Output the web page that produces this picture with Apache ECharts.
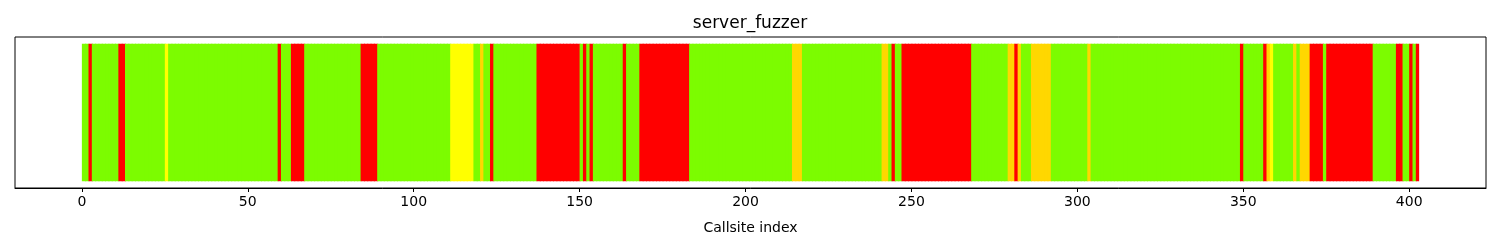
<!DOCTYPE html>
<html>
<head>
<meta charset="utf-8">
<script src="https://cdn.jsdelivr.net/npm/echarts@6/dist/echarts.min.js"></script>
<style>html,body{margin:0;padding:0;background:#fff;}#c{width:1500px;height:250px;}</style>
</head>
<body>
<div id="c"></div>
<script>
// Run starts (callsite index) and status of each run; a run lasts until the next start.
const runStarts = [0,2,3,11,13,25,26,59,60,63,67,84,89,111,118,120,121,123,124,137,150,151,152,153,154,163,164,168,183,214,217,241,243,244,245,247,268,279,281,282,283,286,292,303,304,349,350,356,357,358,359,365,366,367,370,374,375,389,396,398,400,401,402];
const runStatus = ['G','R','G','R','G','Y','G','R','G','R','G','R','G','Y','G','O','G','R','G','R','G','R','G','R','G','R','G','R','G','O','G','O','G','R','G','R','G','O','R','O','G','O','G','O','G','R','G','R','O','Y','G','O','G','O','R','G','R','G','R','G','R','G','R'];
const callsiteCount = 403;
const tickValues = [0,50,100,150,200,250,300,350,400];
const statusColors = {G:'#7CFC00', R:'#FF0000', Y:'#FFFF00', O:'#FFD700'};

const data = [];
for (let r = 0; r < runStarts.length; r++) {
  const end = r + 1 < runStarts.length ? runStarts[r+1] : callsiteCount;
  for (let i = runStarts[r]; i < end; i++) data.push([i, runStatus[r]]);
}

const chart = echarts.init(document.getElementById('c'), null, {renderer:'canvas'});
const span = callsiteCount;
chart.setOption({
  animation:false,
  backgroundColor:'#fff',
  title:{text:'server_fuzzer', left:'center', top:10,
    textStyle:{fontFamily:'DejaVu Sans', fontSize:17, fontWeight:'normal', color:'#000'}},
  grid:{left:15, right:14, top:37, bottom:62, show:true, borderColor:'#000', borderWidth:1, backgroundColor:'#fff'},
  xAxis:{type:'value', min:-0.05*span, max:1.05*span,
    name:'Callsite index', nameLocation:'middle', nameGap:33,
    nameTextStyle:{fontFamily:'DejaVu Sans', fontSize:14, color:'#000'},
    axisLine:{show:true, onZero:false, lineStyle:{color:'#000', width:1}},
    axisTick:{show:true, length:4, lineStyle:{color:'#000'}, customValues:tickValues},
    axisLabel:{show:true, margin:7, fontFamily:'DejaVu Sans', fontSize:14, color:'#000', customValues:tickValues},
    splitLine:{show:false}},
  yAxis:{type:'value', min:-0.05, max:1.05, show:false},
  series:[{
    type:'custom',
    data:data,
    encode:{x:0},
    renderItem:function(params, api){
      const i = api.value(0);
      const p0 = api.coord([i, 0]);
      const p1 = api.coord([i+1, 1]);
      const c = statusColors[data[params.dataIndex][1]];
      const overlap = (i + 1 < callsiteCount) ? 1 : 0;
      return {type:'rect', shape:{x:p0[0], y:p1[1], width:p1[0]-p0[0]+overlap, height:p0[1]-p1[1]},
        style:{fill:c}};
    }
  }]
});
</script>
</body>
</html>
